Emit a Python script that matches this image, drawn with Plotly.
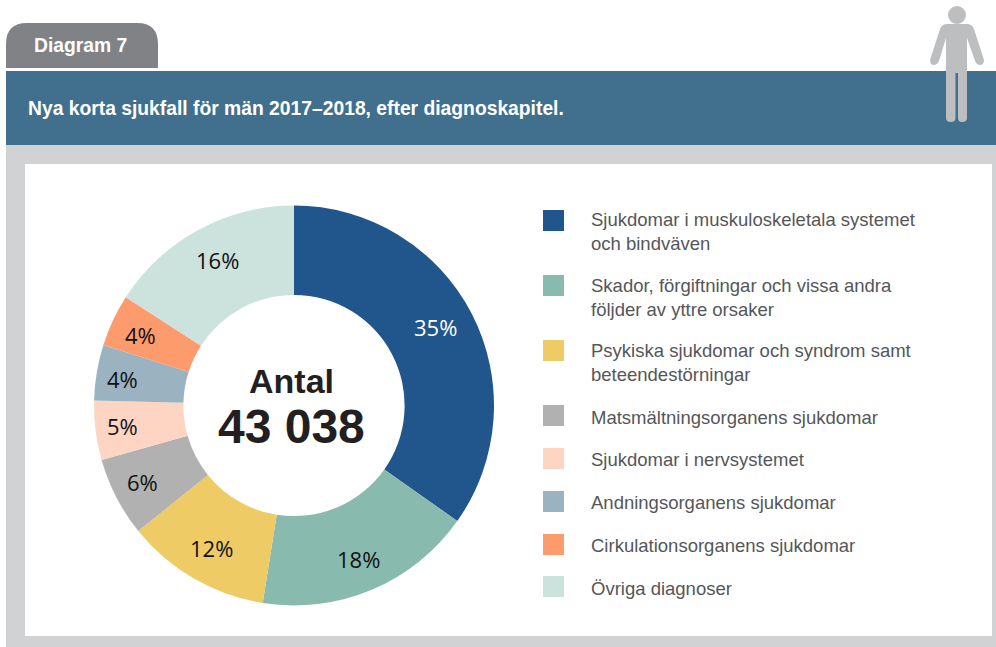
import plotly.graph_objects as go

categories = [
    "Sjukdomar i muskuloskeletala systemet<br>och bindväven",
    "Skador, förgiftningar och vissa andra<br>följder av yttre orsaker",
    "Psykiska sjukdomar och syndrom samt<br>beteendestörningar",
    "Matsmältningsorganens sjukdomar",
    "Sjukdomar i nervsystemet",
    "Andningsorganens sjukdomar",
    "Cirkulationsorganens sjukdomar",
    "Övriga diagnoser",
]
values = [34.8, 17.7, 11.7, 6.4, 4.8, 4.5, 4.2, 15.9]
labels_pct = ["35%", "18%", "12%", "6%", "5%", "4%", "4%", "16%"]

colors = ["#20568C", "#88BAAD", "#EFCB66", "#B1B1B2", "#FDD5C2", "#9BB3C1", "#FE9B6C", "#CBE2DD"]
label_colors = ["#FFFFFF"] + ["#111111"] * 7
label_xy = [(435, 327), (358, 559), (211, 548), (142, 482), (122, 426), (122, 379), (140, 335), (217, 260)]
legend_y = [232, 297.5, 362.5, 417.5, 459.5, 502.5, 545.5, 588.5]
swatch_y = [210, 275, 340, 405, 448, 491, 534, 576]

W, H = 996, 647
fx = lambda x: x / W
fy = lambda y: 1 - y / H

fig = go.Figure()
fig.add_trace(go.Pie(
    values=values, labels=categories, textinfo="none",
    marker=dict(colors=colors, line=dict(width=0)),
    hole=0.553, sort=False, direction="clockwise", rotation=0, showlegend=False,
    domain=dict(x=[fx(94), fx(494)], y=[fy(605.5), fy(205.5)]),
))

def rect(x0, y0, x1, y1, color):
    return dict(type="rect", xref="paper", yref="paper", x0=fx(x0), x1=fx(x1),
                y0=fy(y1), y1=fy(y0), fillcolor=color, line=dict(width=0), layer="below")

def path(d_pts, color):
    return dict(type="path", xref="paper", yref="paper", path=d_pts, fillcolor=color,
                line=dict(width=0), layer="above")

def P(x, y):
    return f"{fx(x):.5f},{fy(y):.5f}"

shapes = [
    rect(6, 145, 996, 647, "#D1D2D4"),
    rect(25, 164, 992, 636, "#FFFFFF"),
    rect(6, 71, 996, 145, "#416F8E"),
    path(f"M {P(6,68)} L {P(6,44)} Q {P(6,23)} {P(27,23)} L {P(137,23)} Q {P(158,23)} {P(158,44)} L {P(158,68)} Z", "#808285"),
]

person = "#BCBEC0"
shapes.append(dict(type="circle", xref="paper", yref="paper", x0=fx(948), x1=fx(966), y0=fy(24), y1=fy(6),
                   fillcolor=person, line=dict(width=0)))
body = [
    "M", P(947, 24), "L", P(967, 24), "Q", P(972, 24), P(974, 29),
    "L", P(984, 60), "Q", P(984, 65), P(980, 65), "Q", P(977, 65), P(975, 61),
    "L", P(967, 38), "L", P(967, 118), "Q", P(967, 122), P(962, 122), "Q", P(958, 122), P(958, 118),
    "L", P(958, 73), "L", P(955.5, 73), "L", P(955.5, 118), "Q", P(955.5, 122), P(951, 122), "Q", P(946, 122), P(946, 118),
    "L", P(946, 38), "L", P(939, 61), "Q", P(937, 65), P(934, 65), "Q", P(930, 65), P(930, 60),
    "L", P(940, 29), "Q", P(942, 24), P(947, 24), "Z",
]
shapes.append(path(" ".join(body), person))

for c, y in zip(colors, swatch_y):
    shapes.append(rect(543, y, 564, y + 21, c))

ann = []
def text(x, y, t, size, color, family, anchor="left", bold=False):
    ann.append(dict(xref="paper", yref="paper", x=fx(x), y=fy(y), text=f"<b>{t}</b>" if bold else t,
                    showarrow=False, xanchor=anchor, yanchor="middle", align="left",
                    font=dict(size=size, color=color, family=family)))

SANS = "Liberation Sans, Arial, sans-serif"
text(32, 45.5, "Diagram 7", 19.3, "#FFFFFF", SANS, bold=True)
text(26, 108.5, "Nya korta sjukfall för män 2017–2018, efter diagnoskapitel.", 19.3, "#FFFFFF", SANS, bold=True)
text(291, 381, "Antal", 34, "#231F20", SANS, "center", True)
text(291, 426, "43 038", 48, "#231F20", SANS, "center", True)
for c, y in zip(categories, legend_y):
    text(589, y, c, 18.5, "#55565A", SANS)
for t, (x, y), col in zip(labels_pct, label_xy, label_colors):
    text(x, y, t, 22, col, "Open Sans, sans-serif", "center")

fig.update_layout(width=W, height=H, margin=dict(l=0, r=0, t=0, b=0),
                  paper_bgcolor="#FFFFFF", plot_bgcolor="#FFFFFF",
                  shapes=shapes, annotations=ann)
fig.write_html("out.html", config={"displayModeBar": False},
               post_script="document.body.style.margin='0';")
